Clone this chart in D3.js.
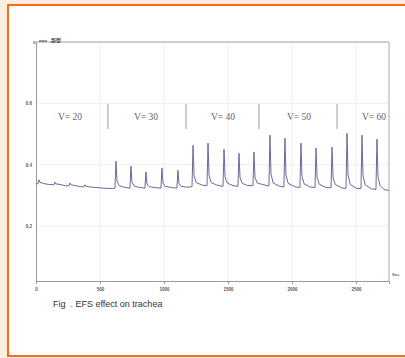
<!DOCTYPE html>
<html>
<head>
<meta charset="utf-8">
<script src="https://cdn.jsdelivr.net/npm/d3@7"></script>
<style>
  body { margin: 0; background: #fdeee0; }
  svg { display: block; }
</style>
</head>
<body>
<div id="chart"></div>
<script>
// tension trace, [seconds, value]
const trace = [
  [0, 0.338], [15, 0.337], [23, 0.350], [31, 0.342], [60, 0.338], [100, 0.335],
  [140, 0.334], [148, 0.343], [156, 0.337], [200, 0.334], [230, 0.331],
  [258, 0.331], [266, 0.340], [274, 0.334], [320, 0.330], [350, 0.328],
  [375, 0.327], [383, 0.334], [391, 0.329], [440, 0.326], [500, 0.324], [560, 0.322], [600, 0.322],
  // V=30
  [617, 0.323], [625, 0.411], [633, 0.346], [650, 0.331], [690, 0.326],
  [734, 0.323], [742, 0.395], [750, 0.342], [767, 0.330], [810, 0.325],
  [851, 0.323], [859, 0.376], [867, 0.337], [884, 0.328], [930, 0.325],
  [976, 0.323], [984, 0.389], [992, 0.340], [1009, 0.329], [1060, 0.325],
  [1101, 0.323], [1109, 0.382], [1117, 0.338], [1134, 0.329], [1180, 0.326],
  // V=40
  [1219, 0.328], [1227, 0.463], [1235, 0.363], [1252, 0.341], [1300, 0.333],
  [1336, 0.331], [1344, 0.470], [1352, 0.365], [1369, 0.341], [1420, 0.332],
  [1461, 0.329], [1469, 0.450], [1477, 0.360], [1494, 0.340], [1540, 0.331],
  [1578, 0.329], [1586, 0.437], [1594, 0.357], [1611, 0.339], [1650, 0.332],
  [1695, 0.331], [1703, 0.441], [1711, 0.358], [1728, 0.340], [1760, 0.336], [1790, 0.333],
  // V=50
  [1820, 0.330], [1828, 0.496], [1836, 0.369], [1853, 0.340], [1900, 0.330],
  [1937, 0.327], [1945, 0.486], [1953, 0.366], [1970, 0.339], [2020, 0.328],
  [2062, 0.325], [2070, 0.470], [2078, 0.362], [2095, 0.337], [2140, 0.327],
  [2180, 0.325], [2188, 0.454], [2196, 0.358], [2213, 0.336], [2260, 0.326],
  [2305, 0.324], [2313, 0.457], [2321, 0.357], [2338, 0.335], [2390, 0.324],
  // V=60
  [2422, 0.322], [2430, 0.502], [2438, 0.366], [2455, 0.335], [2500, 0.323],
  [2539, 0.321], [2547, 0.496], [2555, 0.364], [2572, 0.334], [2620, 0.321],
  [2656, 0.319], [2664, 0.483], [2672, 0.360], [2689, 0.331], [2720, 0.318], [2758, 0.316]
];

const segLabels = ["V= 20", "V= 30", "V= 40", "V= 50", "V= 60"];
const segCenters = [266, 859, 1461, 2055, 2641];
const segBounds = [562, 1172, 1742, 2352];
const xTicks = [0, 500, 1000, 1500, 2000, 2500];
const yTicks = [0.2, 0.4, 0.6];
const legendName = "新型";
const caption = "Fig  . EFS effect on trachea";

const W = 405, H = 358;
const margin = { top: 42, right: 16, bottom: 77, left: 36 };

const svg = d3.select('#chart').append('svg').attr('width', W).attr('height', H);

// orange frame
svg.append('rect')
  .attr('x', 8).attr('y', 5).attr('width', 420).attr('height', 351)
  .attr('fill', '#ffffff').attr('stroke', '#fb6a1c').attr('stroke-width', 2);

const xScale = d3.scaleLinear().domain([0, 2758]).range([margin.left, W - margin.right]);
const yScale = d3.scaleLinear().domain([0.02, 0.8]).range([H - margin.bottom, margin.top]);

const g = svg.append('g');

// grid
g.selectAll('.vgrid').data(xTicks.slice(1)).enter().append('line')
  .attr('x1', d => xScale(d)).attr('x2', d => xScale(d))
  .attr('y1', yScale(0.8)).attr('y2', yScale(0.02))
  .attr('stroke', '#ededed').attr('stroke-width', 1);
g.selectAll('.hgrid').data(yTicks).enter().append('line')
  .attr('x1', xScale(0)).attr('x2', xScale(2758))
  .attr('y1', d => yScale(d)).attr('y2', d => yScale(d))
  .attr('stroke', '#efefef').attr('stroke-width', 1);

// frame top / right
g.append('line').attr('x1', xScale(0)).attr('x2', xScale(2758))
  .attr('y1', yScale(0.8)).attr('y2', yScale(0.8))
  .attr('stroke', '#bdbdbd').attr('stroke-width', 1.3);
g.append('line').attr('x1', xScale(2758)).attr('x2', xScale(2758))
  .attr('y1', yScale(0.8)).attr('y2', yScale(0.02))
  .attr('stroke', '#bdbdbd').attr('stroke-width', 1.3);

// axes
const xAxis = d3.axisBottom(xScale).tickValues(xTicks).tickSize(3).tickFormat(d3.format('d'));
const gx = g.append('g').attr('transform', `translate(0, ${yScale(0.02)})`).call(xAxis);
const yAxis = d3.axisLeft(yScale).tickValues(yTicks).tickSize(0).tickFormat(d3.format('.1f'));
const gy = g.append('g').attr('transform', `translate(${xScale(0)}, 0)`).call(yAxis);

[gx, gy].forEach(a => {
  a.select('.domain').attr('stroke', '#9a9a9a').attr('stroke-width', 1);
  a.selectAll('.tick line').attr('stroke', '#9a9a9a');
  a.selectAll('text').attr('font-family', 'Arial, Liberation Sans, sans-serif')
    .attr('font-size', 4.5).attr('font-weight', 'bold').attr('fill', '#555');
});
gx.selectAll('text').attr('dy', '0.9em');
gy.selectAll('text').attr('dx', '-1').attr('dy', '0.35em');

g.append('text').attr('x', xScale(2758) + 3).attr('y', yScale(0.02) - 5)
  .attr('font-family', 'Arial, sans-serif').attr('font-size', 4).attr('font-weight', 'bold')
  .attr('fill', '#666').text('Sec');

// legend at top left
g.append('text').attr('x', xScale(0) - 3).attr('y', yScale(0.8) + 1.5)
  .attr('font-family', 'Arial, sans-serif').attr('font-size', 4.5).attr('font-weight', 'bold')
  .attr('fill', '#555').text('o');
g.append('line').attr('x1', xScale(0) + 3).attr('x2', xScale(0) + 11)
  .attr('y1', yScale(0.8) - 1).attr('y2', yScale(0.8) - 1)
  .attr('stroke', '#444').attr('stroke-width', 1);
g.append('text').attr('x', xScale(0) + 15).attr('y', yScale(0.8) - 0.5)
  .attr('font-family', 'Noto Sans CJK SC, sans-serif').attr('font-size', 5).attr('font-weight', 'bold')
  .attr('fill', '#444').text(legendName);

// segment dividers and labels
g.selectAll('.div').data(segBounds).enter().append('line')
  .attr('x1', d => xScale(d)).attr('x2', d => xScale(d))
  .attr('y1', 104).attr('y2', 129)
  .attr('stroke', '#9c9c9c').attr('stroke-width', 1);
g.selectAll('.seg').data(segLabels).enter().append('text')
  .attr('x', (d, i) => xScale(segCenters[i])).attr('y', 120)
  .attr('text-anchor', 'middle')
  .attr('font-family', 'Liberation Serif, Times New Roman, serif').attr('font-size', 9.5)
  .attr('fill', '#666').text(d => d);

// trace
const line = d3.line().x(d => xScale(d[0])).y(d => yScale(d[1]));
g.append('path').datum(trace)
  .attr('d', line).attr('fill', 'none')
  .attr('stroke', '#6a6a9c').attr('stroke-width', 1).attr('stroke-linejoin', 'round');

// caption
svg.append('text').attr('x', 53).attr('y', 307)
  .style('white-space', 'pre')
  .attr('font-family', 'Arial, Liberation Sans, sans-serif').attr('font-size', 9)
  .attr('fill', '#333').text(caption);
</script>
</body>
</html>
